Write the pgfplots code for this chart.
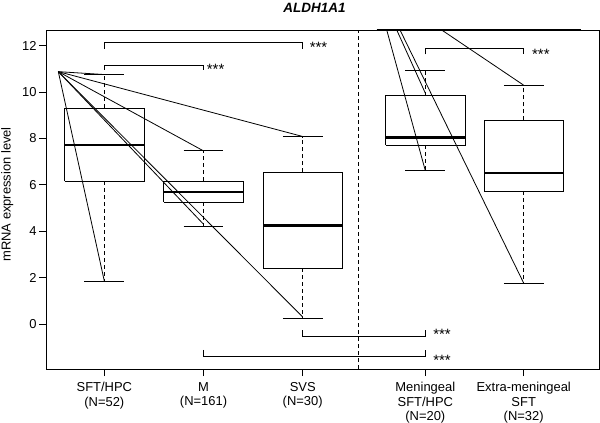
\documentclass[border=0pt]{standalone}
\usepackage{fontspec}
\setmainfont{Liberation Sans}
\usepackage{pgfplots}
\pgfplotsset{compat=1.18}
\pgfplotsset{
  bx/.style={black, line width=0.8bp, line join=miter},
  md/.style={black, line width=2.6bp},
  wh/.style={black, line width=0.8bp, dash pattern=on 4bp off 3bp},
  ln/.style={black, line width=0.8bp},
}
\newcommand\fs{\fontsize{13}{14.2}\selectfont}
\newcommand\fst{\fontsize{15}{16}\selectfont}
\begin{document}
\begin{tikzpicture}
\begin{axis}[name=ax, scale only axis, width=553bp, height=339bp,
 xmin=0.412, xmax=5.987, ymin=-1.94, ymax=12.67,
 axis line style={black, line width=0.8bp},
 xtick={1,2,3,4.236,5.228},
 xticklabels={{SFT/HPC\\(N=52)},{M\\(N=161)},{SVS\\(N=30)},{Meningeal\\SFT/HPC\\(N=20)},{Extra-meningeal\\SFT\\(N=32)}},
 ytick={0,2,4,6,8,10,12},
 xtick pos=bottom, ytick pos=left, tick align=outside, major tick length=7bp,
 tick style={black, line width=0.8bp},
 tick label style={font=\fs},
 xticklabel style={align=center, yshift=-3bp},
 yticklabel style={xshift=1bp},
 /pgf/number format/assume math mode=true,
 clip=false,
]
% separator
\addplot[wh] coordinates {(3.565,-1.94) (3.565,12.67)};
% --- SFT/HPC (x=1)
\addplot[wh] coordinates {(1,9.30) (1,10.75)};
\addplot[wh] coordinates {(1,6.16) (1,1.85)};
\addplot[ln] coordinates {(0.8,10.75) (1.2,10.75)};
\addplot[ln] coordinates {(0.8,1.85) (1.2,1.85)};
\addplot[bx] coordinates {(0.6,6.16) (1.4,6.16) (1.4,9.30) (0.6,9.30) (0.6,6.16)};
\addplot[md] coordinates {(0.6,7.72) (1.4,7.72)};
% --- M (x=2)
\addplot[wh] coordinates {(2,6.16) (2,7.46)};
\addplot[wh] coordinates {(2,5.26) (2,4.22)};
\addplot[ln] coordinates {(1.8,7.46) (2.2,7.46)};
\addplot[ln] coordinates {(1.8,4.22) (2.2,4.22)};
\addplot[bx] coordinates {(1.6,5.26) (2.4,5.26) (2.4,6.16) (1.6,6.16) (1.6,5.26)};
\addplot[md] coordinates {(1.6,5.69) (2.4,5.69)};
% --- SVS (x=3)
\addplot[wh] coordinates {(3,6.54) (3,8.08)};
\addplot[wh] coordinates {(3,2.40) (3,0.25)};
\addplot[ln] coordinates {(2.8,8.08) (3.2,8.08)};
\addplot[ln] coordinates {(2.8,0.25) (3.2,0.25)};
\addplot[bx] coordinates {(2.6,2.40) (3.4,2.40) (3.4,6.54) (2.6,6.54) (2.6,2.40)};
\addplot[md] coordinates {(2.6,4.24) (3.4,4.24)};
% --- Meningeal SFT/HPC (x=4.236)
\addplot[wh] coordinates {(4.236,9.84) (4.236,10.92)};
\addplot[wh] coordinates {(4.236,7.71) (4.236,6.61)};
\addplot[ln] coordinates {(4.036,10.92) (4.436,10.92)};
\addplot[ln] coordinates {(4.036,6.61) (4.436,6.61)};
\addplot[bx] coordinates {(3.836,7.71) (4.636,7.71) (4.636,9.84) (3.836,9.84) (3.836,7.71)};
\addplot[md] coordinates {(3.836,8.04) (4.636,8.04)};
% --- Extra-meningeal SFT (x=5.228)
\addplot[wh] coordinates {(5.228,8.78) (5.228,10.29)};
\addplot[wh] coordinates {(5.228,5.73) (5.228,1.76)};
\addplot[ln] coordinates {(5.028,10.29) (5.428,10.29)};
\addplot[ln] coordinates {(5.028,1.76) (5.428,1.76)};
\addplot[bx] coordinates {(4.828,5.73) (5.628,5.73) (5.628,8.78) (4.828,8.78) (4.828,5.73)};
\addplot[md] coordinates {(4.828,6.51) (5.628,6.51)};
% --- significance brackets
\addplot[ln] coordinates {(1,11.86) (1,12.13) (3,12.13) (3,11.86)};
\addplot[ln] coordinates {(1,10.95) (1,11.16) (2,11.16) (2,10.95)};
\addplot[ln] coordinates {(4.236,11.62) (4.236,11.87) (5.228,11.87) (5.228,11.62)};
\addplot[ln] coordinates {(3,-0.27) (3,-0.52) (4.236,-0.52) (4.236,-0.27)};
\addplot[ln] coordinates {(2,-1.12) (2,-1.38) (4.236,-1.38) (4.236,-1.12)};
% --- stray lines
\addplot[ln] coordinates {(0.536,10.875) (1,10.75)};
\addplot[ln] coordinates {(0.536,10.875) (1,1.85)};
\addplot[ln] coordinates {(0.536,10.875) (2,7.46)};
\addplot[ln] coordinates {(0.536,10.875) (3,8.08)};
\addplot[ln] coordinates {(0.536,10.875) (2,4.30)};
\addplot[ln] coordinates {(0.536,10.875) (3,0.30)};
\addplot[ln] coordinates {(3.847,12.67) (4.236,6.61)};
\addplot[ln] coordinates {(3.948,12.67) (4.236,9.95)};
\addplot[ln] coordinates {(3.981,12.67) (5.228,1.76)};
\addplot[ln] coordinates {(4.401,12.67) (5.228,10.29)};
\addplot[black, line width=2bp] coordinates {(3.746,12.67) (5.805,12.67)};
% --- stars
\node[anchor=base west, inner sep=0pt, font=\fst, yshift=-8.7bp] at (axis cs:3.069,12.07) {***};
\node[anchor=base west, inner sep=0pt, font=\fst, yshift=-8.7bp] at (axis cs:2.032,11.12) {***};
\node[anchor=base west, inner sep=0pt, font=\fst, yshift=-8.7bp] at (axis cs:5.311,11.78) {***};
\node[anchor=base west, inner sep=0pt, font=\fst, yshift=-8.7bp] at (axis cs:4.314,-0.30) {***};
\node[anchor=base west, inner sep=0pt, font=\fst, yshift=-8.7bp] at (axis cs:4.314,-1.41) {***};
% --- title and y label
\node[anchor=base, inner sep=0pt, font=\fontsize{13.5}{15}\selectfont\bfseries\itshape, yshift=17bp] at (rel axis cs:0.4855,1) {ALDH1A1};
\node[anchor=base, inner sep=0pt, font=\fs, rotate=90] at ([xshift=-35.4bp]rel axis cs:0,0.515) {mRNA expression level};
\end{axis}
\pgfresetboundingbox
\path[use as bounding box] ([xshift=-46bp,yshift=-54bp]ax.south west) rectangle ([xshift=1bp,yshift=30bp]ax.north east);
\end{tikzpicture}
\end{document}
